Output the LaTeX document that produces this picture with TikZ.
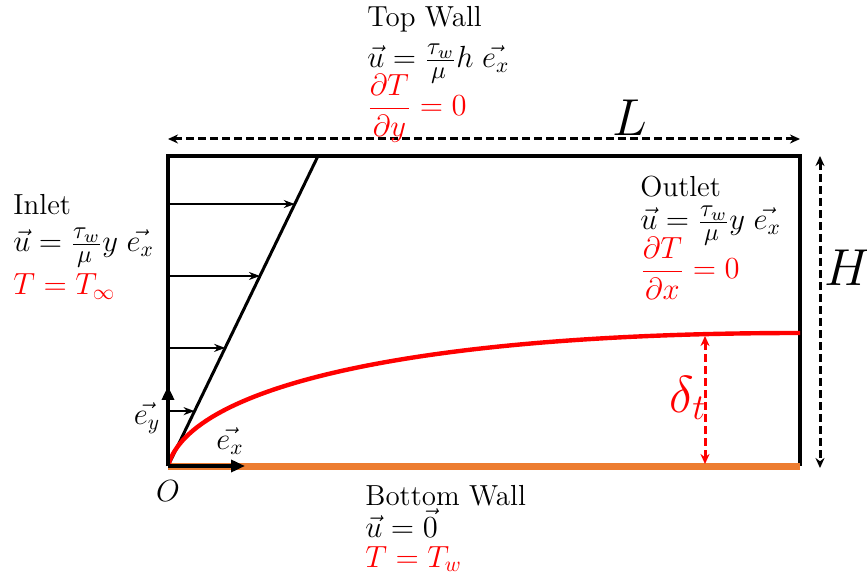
\documentclass[tikz,border=0pt]{standalone}
\usepackage{fix-cm}
\usepackage{amsmath}
\usepackage{graphicx}
\usepackage{fontspec}
\newcommand{\sfrac}[2]{\frac{\scalebox{1.15}{$\scriptstyle #1$}}{\scalebox{1.15}{$\scriptstyle #2$}}}
\usetikzlibrary{arrows.meta,calc}
\definecolor{wallorange}{RGB}{237,125,49}
\begin{document}
\begin{tikzpicture}[x=0.5pt,y=-0.5pt,
  lbl/.style={font=\fontsize{14.5}{17}\selectfont,inner sep=0pt,anchor=base west},
  eq/.style={lbl,font=\fontsize{15.3}{18}\selectfont},
  deq/.style={eq,red},
  big/.style={font=\fontsize{26}{30}\selectfont,inner sep=0pt},
  wall/.style={line width=2.2pt},
  dimline/.style={dash pattern=on 4pt off 2pt,line width=1.5pt,{Stealth[length=5pt,width=4.5pt]}-{Stealth[length=5pt,width=4.5pt]}},
  vel/.style={line width=1.1pt,-{Stealth[length=5.5pt,width=4pt]}},
  axis/.style={line width=2pt,-{Triangle[length=7pt,width=6pt]}}]
\useasboundingbox (0,0) rectangle (867,582);
% box corners
\coordinate (O) at (168,466);
\coordinate (A) at (168,156);
\coordinate (B) at (800,156);
\coordinate (C) at (800,466);
\coordinate (P) at (318,156);
\draw[wall] (O) -- (A) -- (B) -- (C);
\draw[wallorange,line width=3.5pt] (O) -- (C);
% velocity profile
\draw[line width=1.5pt] (O) -- (P);
\foreach \f in {0.845,0.613,0.381,0.177} {
  \coordinate (v) at ($(O)!\f!(P)$);
  \draw[vel] (O|-v) -- (v);
}
% thermal boundary layer
\draw[red,line width=2.2pt] (O) .. controls (190,385) and (420,333) .. (800,333);
\coordinate (dtop) at (705,336);
\coordinate (dbot) at (705,464);
\draw[red,dimline] (dtop) -- (dbot);
\node[big,red] (delta) at (688,398) {$\delta_t$};
% unit vectors
\coordinate (ey) at (168,386);
\coordinate (ex) at (245,466);
\draw[axis] (O) -- (ey);
\draw[axis] (O) -- (ex);
\node[eq,anchor=center] (eylbl) at (147,418) {$\vec{e_y}$};
\node[eq,anchor=center] (exlbl) at (230,441) {$\vec{e_x}$};
\node[eq,anchor=center] (orig) at (168,491) {$O$};
% dimensions
\coordinate (Ll) at (168,139);
\coordinate (Lr) at (800,139);
\draw[dimline] (Ll) -- (Lr);
\node[big] (Llbl) at (630,118) {$L$};
\coordinate (Ht) at (820,156);
\coordinate (Hb) at (820,468);
\draw[dimline] (Ht) -- (Hb);
\node[big] (Hlbl) at (848,268) {$H$};
% boundary conditions
\node[lbl] (top1) at (367,27) {Top Wall};
\node[eq] (top2) at (367,68) {$\vec{u}=\sfrac{\tau_w}{\mu}h\;\vec{e_x}$};
\node[deq] (top3) at (367,116) {$\dfrac{\partial T}{\partial y}=0$};
\node[lbl] (in1) at (13,215) {Inlet};
\node[eq] (in2) at (13,252) {$\vec{u}=\sfrac{\tau_w}{\mu}y\;\vec{e_x}$};
\node[eq,red] (in3) at (13,295) {$T=T_\infty$};
\node[lbl] (out1) at (640,197) {Outlet};
\node[eq] (out2) at (640,230) {$\vec{u}=\sfrac{\tau_w}{\mu}y\;\vec{e_x}$};
\node[deq] (out3) at (640,279) {$\dfrac{\partial T}{\partial x}=0$};
\node[lbl] (bot1) at (365,505) {Bottom Wall};
\node[eq] (bot2) at (365,537) {$\vec{u}=\vec{0}$};
\node[eq,red] (bot3) at (365,567) {$T=T_w$};
\end{tikzpicture}
\end{document}
